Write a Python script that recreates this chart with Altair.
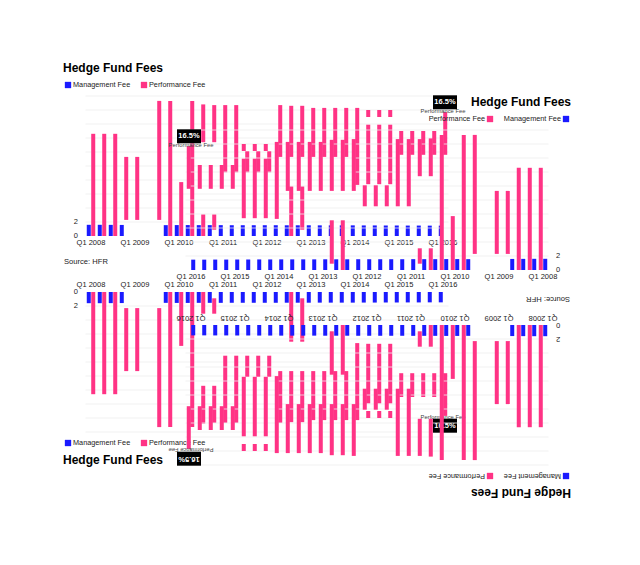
import altair as alt
import pandas as pd

# ---------------- data ----------------
quarters = [f"Q{q} {y}" for y in range(2008, 2016) for q in (1, 2, 3, 4)] + ["Q1 2016"]
# management fee per quarter (%), None where no bar is drawn
management_fee = [1.60, 1.60, 1.59, 1.58, None, None, None, 1.55,
                  1.56, 1.56, 1.55, 1.55, 1.55, 1.54, 1.54, 1.54,
                  1.54, 1.54, 1.53, 1.53, 1.53, 1.52, 1.52, 1.52,
                  1.52, 1.51, 1.51, 1.50, 1.50, 1.49, 1.49, 1.48, 1.48]
# performance fee bars as drawn: segment quarter index, bottom %, top %
perf_seg_q = [0, 1, 2, 3, 4, 6, 7, 8, 9, 10, 10, 11, 11, 12, 13, 14, 15, 16, 17,
              18, 18, 19, 19, 20, 21, 22, 23, 24, 25, 25, 26, 26, 27, 27,
              28, 29, 30, 31, 32]
perf_seg_lo = [0.0, 0.0, 0.0, 2.3, 2.3, 2.3, 0.0, 0.0, 0.0, 13.4, 0.0, 13.4, 0.9,
               9.1, 9.1, 9.1, 9.1, 9.1, 11.3, 11.3, 0.0, 11.3, 0.9, 11.3, 11.3,
               11.3, 11.3, 7.3, 17.0, 7.4, 17.0, 7.4, 17.0, 7.4,
               11.6, 11.6, 11.6, 11.6, 11.6]
perf_seg_hi = [14.6, 14.6, 14.6, 11.3, 11.3, 19.3, 19.3, 7.7, 19.3, 18.8, 3.1, 18.7, 3.1,
               18.7, 18.7, 12.1, 12.1, 12.1, 18.7, 18.6, 7.1, 18.6, 7.1, 18.3, 18.3,
               18.3, 18.3, 18.3, 18.0, 15.9, 18.0, 15.9, 18.0, 15.9,
               15.0, 15.0, 15.0, 15.0, 17.7]
series_names = ["Management Fee", "Performance Fee"]
year_labels = ["Q1 2008", "Q1 2009", "Q1 2010", "Q1 2011", "Q1 2012",
               "Q1 2013", "Q1 2014", "Q1 2015", "Q1 2016"]
y_label_values = [0, 2]
grid_values = [2, 4, 6, 8, 10, 12, 14, 16, 18, 20]
title_text = "Hedge Fund Fees"
source_text = "Source: HFR"
callout_quarter = "Q1 2016"
callout_text = "16.5%"
callout_series = "Performance Fee"

BLUE = "#1a1aff"
PINK = "#ff3385"
FONT = "Liberation Sans"

mgmt_df = pd.DataFrame({"quarter": quarters, "series": series_names[0],
                        "value": management_fee}).dropna()
perf_df = pd.DataFrame({"quarter": [quarters[i] for i in perf_seg_q],
                        "series": series_names[1],
                        "lo": perf_seg_lo, "hi": perf_seg_hi})
xlab_df = pd.DataFrame({"quarter": year_labels})
ylab_df = pd.DataFrame({"v": y_label_values, "t": [str(v) for v in y_label_values]})
grid_df = pd.DataFrame({"v": grid_values})
ci = quarters.index(callout_quarter)
ctop = max(h for q, h in zip(perf_seg_q, perf_seg_hi) if q == ci)
callout_df = pd.DataFrame({
    "quarter": [callout_quarter],
    "lo": [ctop + 0.4], "hi": [ctop + 2.4], "mid": [ctop + 1.4], "lab": [ctop + 0.1],
    "t": [callout_text], "s": [callout_series],
})

# ---------------- layout of the kaleidoscoped copies ----------------
MX = 634
PLOT_X = (85.5, 448.5)
PLOT_Y = (236, 96)  # pixel of 0 % and of 20 %


def tf(copy, x, y):
    if copy == "A":
        X, Y = x, y
    elif copy == "B":
        X, Y = MX - x, y + 34
    elif copy == "C":
        X, Y = x, 528 - y
    else:
        X, Y = MX - x, 561 - y
    return X - 8, Y - 8


def make_copy(copy):
    mirror = copy in ("B", "D")
    angle = 180 if copy == "D" else 0
    flip_align = {"left": "right", "right": "left", "center": "center"}

    def al(a):
        return flip_align[a] if copy == "B" else a

    x0, _ = tf(copy, PLOT_X[0], 0)
    x1, _ = tf(copy, PLOT_X[1], 0)
    _, y0 = tf(copy, 0, PLOT_Y[0])
    _, y1 = tf(copy, 0, PLOT_Y[1])

    xs = alt.Scale(domain=quarters, range=[x0, x1], paddingInner=0.23, paddingOuter=0.115)
    ys = alt.Scale(domain=[0, 20], range=[y0, y1], nice=False, zero=True)
    X = alt.X("quarter:N", scale=xs, axis=None)
    off_dom = series_names[::-1] if mirror else series_names
    XO = alt.XOffset("series:N", scale=alt.Scale(domain=off_dom, paddingInner=0.1))
    sign = -1 if mirror else 1

    grid = alt.Chart(grid_df).mark_rule(color="#eeeeee", strokeWidth=0.8).encode(
        y=alt.Y("v:Q", scale=ys, axis=None),
        x=alt.value(x0), x2=alt.value(x1),
    )
    mgmt = alt.Chart(mgmt_df).mark_bar(color=BLUE).encode(
        x=X, xOffset=XO, y=alt.Y("value:Q", scale=ys, axis=None),
    )
    perf = alt.Chart(perf_df).mark_bar(color=PINK).encode(
        x=X, xOffset=XO, y=alt.Y("hi:Q", scale=ys, axis=None), y2="lo:Q",
    )
    box = alt.Chart(callout_df).mark_bar(width=24, color="#000000", xOffset=2 * sign).encode(
        x=X, y=alt.Y("lo:Q", scale=ys), y2="hi:Q")
    box_text = alt.Chart(callout_df).mark_text(
        color="white", fontSize=7.5, fontWeight="bold", font=FONT, angle=angle,
        baseline="middle", align="center", dx=2 * sign if angle == 0 else -2 * sign,
    ).encode(x=X, y=alt.Y("mid:Q", scale=ys), text="t:N")
    box_sub = alt.Chart(callout_df).mark_text(
        color="#444444", fontSize=5.8, font=FONT, angle=angle,
        baseline="middle", align="center",
    ).encode(x=X, y=alt.Y("lab:Q", scale=ys), text="s:N")

    _, yl = tf(copy, 0, 243)
    xlabels = alt.Chart(xlab_df).mark_text(
        fontSize=7.5, font=FONT, color="#222222", angle=angle, baseline="middle", align="center"
    ).encode(x=X, y=alt.value(yl), text="quarter:N")

    ylx, _ = tf(copy, 78, 0)
    ylabels = alt.Chart(ylab_df).mark_text(
        fontSize=7.5, font=FONT, color="#222222", angle=angle, baseline="middle", align=al("right")
    ).encode(x=alt.value(ylx), y=alt.Y("v:Q", scale=ys), text="t:N")

    def label(text, x, y, size, align="left", bold=False, color="#222222"):
        tx, ty = tf(copy, x, y)
        return alt.Chart(pd.DataFrame({"t": [text]})).mark_text(
            align=al(align), baseline="middle", angle=angle, fontSize=size, font=FONT,
            fontWeight="bold" if bold else "normal", color=color,
        ).encode(x=alt.value(tx), y=alt.value(ty), text="t:N")

    def swatch(color, x, y):
        tx, ty = tf(copy, x, y)
        return alt.Chart(pd.DataFrame({"t": [0]})).mark_square(
            size=40, color=color, opacity=1
        ).encode(x=alt.value(tx), y=alt.value(ty))

    layers = [grid, mgmt, perf, box, box_text, box_sub, xlabels, ylabels,
              label(title_text, 63, 68, 12, bold=True, color="#000000"),
              swatch(BLUE, 68, 85), label(series_names[0], 73, 85, 7.3),
              swatch(PINK, 144, 85), label(series_names[1], 149, 85, 7.3)]
    if copy in ("A", "D"):
        layers.append(label(source_text, 64, 262, 7.6))
    return alt.layer(*layers)


chart = alt.layer(
    make_copy("A"), make_copy("B"), make_copy("C"), make_copy("D")
).resolve_scale(
    x="independent", y="independent", xOffset="independent"
).properties(
    width=624, height=549, padding=0, autosize="none", background="white"
).configure_view(stroke=None)

chart.save("out.html", embed_options={"renderer": "svg", "actions": False})
